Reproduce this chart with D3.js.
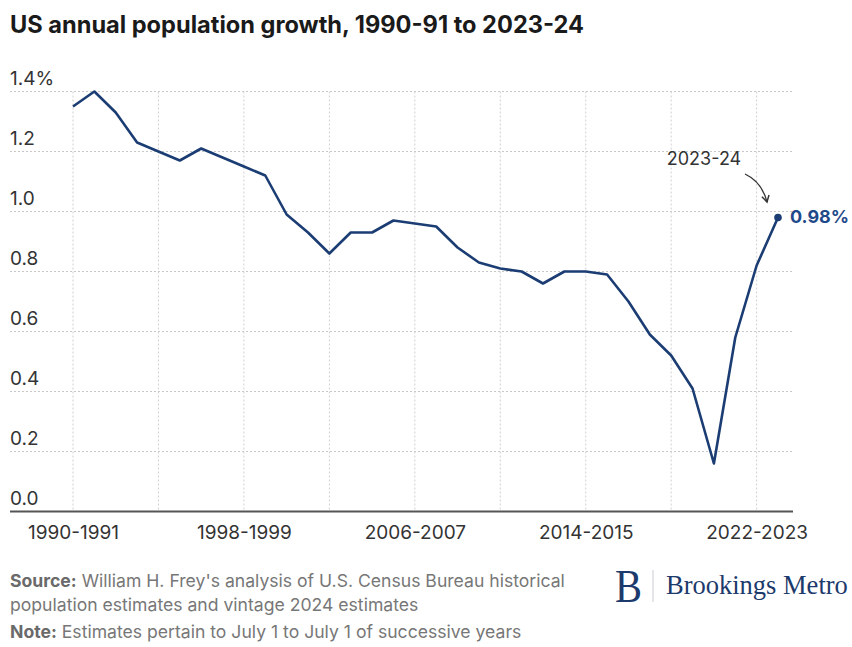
<!DOCTYPE html>
<html>
<head>
<meta charset="utf-8">
<script src="https://cdn.jsdelivr.net/npm/d3@7"></script>
<style>
  html, body { margin: 0; padding: 0; background: #fff; }
  svg { display: block; }
  .sans { font-family: Inter, "Noto Sans", sans-serif; }
  .serif { font-family: "Liberation Serif", "DejaVu Serif", serif; }
</style>
</head>
<body>
<svg id="chart" width="852" height="647"></svg>
<script>
// ---- data ----
const periods = ["1990-1991","1991-1992","1992-1993","1993-1994","1994-1995","1995-1996","1996-1997","1997-1998",
  "1998-1999","1999-2000","2000-2001","2001-2002","2002-2003","2003-2004","2004-2005","2005-2006","2006-2007",
  "2007-2008","2008-2009","2009-2010","2010-2011","2011-2012","2012-2013","2013-2014","2014-2015","2015-2016",
  "2016-2017","2017-2018","2018-2019","2019-2020","2020-2021","2021-2022","2022-2023","2023-2024"];
const growth = [1.35,1.40,1.33,1.23,1.20,1.17,1.21,1.18,1.15,1.12,0.99,0.93,0.86,0.93,0.93,0.97,0.96,
  0.95,0.88,0.83,0.81,0.80,0.76,0.80,0.80,0.79,0.70,0.59,0.52,0.41,0.16,0.58,0.82,0.98];
const yTicks = [0, 0.2, 0.4, 0.6, 0.8, 1.0, 1.2, 1.4];
const yTickLabels = ["0.0","0.2","0.4","0.6","0.8","1.0","1.2","1.4%"];
const xLabelTicks = ["1990-1991","1998-1999","2006-2007","2014-2015","2022-2023"];
const xGridTicks = ["1990-1991","1994-1995","1998-1999","2002-2003","2006-2007","2010-2011","2014-2015","2018-2019","2022-2023"];
const title = "US annual population growth, 1990-91 to 2023-24";
const annotationLabel = "2023-24";
const lastValueLabel = "0.98%";

// ---- layout ----
const svg = d3.select("#chart");
const left = 10, right = 793;
const x = d3.scalePoint().domain(periods).range([73, 778]);
const y = d3.scaleLinear().domain([0, 1.4]).range([511.5, 91.5]);
const lineColor = "#1b3d73";

svg.append("text").attr("class", "sans").attr("x", 10).attr("y", 33)
  .attr("font-size", 23.6).attr("font-weight", 700).attr("fill", "#1a1a1a")
  .text(title);

// horizontal grid
const hg = svg.append("g");
hg.selectAll("line.h").data(yTicks.filter(d => d > 0)).join("line").attr("class", "h")
  .attr("x1", left).attr("x2", right)
  .attr("y1", d => y(d)).attr("y2", d => y(d))
  .attr("stroke", "#c8c8c8").attr("stroke-width", 1).attr("stroke-dasharray", "2,2");
// vertical grid
hg.selectAll("line.v").data(xGridTicks).join("line").attr("class", "v")
  .attr("x1", d => x(d)).attr("x2", d => x(d))
  .attr("y1", y(1.4)).attr("y2", y(0))
  .attr("stroke", "#d0d0d0").attr("stroke-width", 1).attr("stroke-dasharray", "2,2");

// y labels
svg.append("g").selectAll("text").data(yTicks).join("text")
  .attr("class", "sans")
  .attr("x", left).attr("y", d => y(d) - 7)
  .attr("font-size", 19).attr("fill", "#333")
  .text((d, i) => yTickLabels[i]);

// baseline
svg.append("line").attr("x1", left).attr("x2", right)
  .attr("y1", y(0)).attr("y2", y(0))
  .attr("stroke", "#555").attr("stroke-width", 2);

// x axis labels
const xAxis = d3.axisBottom(x).tickValues(xLabelTicks).tickSize(0).tickPadding(0);
const gx = svg.append("g").attr("transform", `translate(0,${y(0)})`).call(xAxis);
gx.attr("font-family", null).attr("font-size", null);
gx.select(".domain").remove();
gx.selectAll("text").attr("class", "sans").attr("font-size", 19).attr("fill", "#333")
  .attr("dy", null).attr("y", 27);

// line
svg.append("path").datum(growth)
  .attr("fill", "none").attr("stroke", lineColor).attr("stroke-width", 2.6)
  .attr("stroke-linejoin", "round")
  .attr("d", d3.line().x((d, i) => x(periods[i])).y(d => y(d)));

// last point
const lastP = periods[periods.length - 1], lastV = growth[growth.length - 1];
svg.append("circle").attr("cx", x(lastP)).attr("cy", y(lastV)).attr("r", 3.8).attr("fill", lineColor);
svg.append("text").attr("class", "sans").attr("x", x(lastP) + 12).attr("y", y(lastV) + 5.5)
  .attr("font-size", 18).attr("font-weight", 700).attr("fill", "#1f4a8a")
  .text(lastValueLabel);

// annotation
svg.append("text").attr("class", "sans").attr("x", 704).attr("y", 165).attr("text-anchor", "middle")
  .attr("font-size", 18).attr("fill", "#333").text(annotationLabel);
const defs = svg.append("defs");
defs.append("marker").attr("id", "arr").attr("viewBox", "0 0 10 10")
  .attr("refX", 8).attr("refY", 5).attr("markerWidth", 7).attr("markerHeight", 7)
  .attr("orient", "auto")
  .append("path").attr("d", "M1,1 L8,5 L1,9").attr("fill", "none").attr("stroke", "#333").attr("stroke-width", 1.6);
svg.append("path").attr("d", "M745,174 Q762,182 767,202")
  .attr("fill", "none").attr("stroke", "#333").attr("stroke-width", 1.3)
  .attr("marker-end", "url(#arr)");

// footer
const foot = svg.append("g").attr("class", "sans").attr("font-size", 17.6).attr("fill", "#777");
const t1 = foot.append("text").attr("x", 10).attr("y", 587);
t1.append("tspan").attr("font-weight", 700).attr("fill", "#6a6a6a").text("Source:");
t1.append("tspan").text(" William H. Frey's analysis of U.S. Census Bureau historical");
foot.append("text").attr("x", 10).attr("y", 610.5).text("population estimates and vintage 2024 estimates");
const t3 = foot.append("text").attr("x", 10).attr("y", 638);
t3.append("tspan").attr("font-weight", 700).attr("fill", "#6a6a6a").text("Note:");
t3.append("tspan").text(" Estimates pertain to July 1 to July 1 of successive years");

// logo
const logo = svg.append("g").attr("fill", "#1c3a6b");
logo.append("text").attr("class", "serif").attr("x", 615).attr("y", 602)
  .attr("font-size", 47).attr("textLength", 27).attr("lengthAdjust", "spacingAndGlyphs").text("B");
logo.append("line").attr("x1", 653).attr("x2", 653).attr("y1", 570).attr("y2", 602)
  .attr("stroke", "#c9ccd4").attr("stroke-width", 1);
logo.append("text").attr("class", "serif").attr("x", 666).attr("y", 593.5)
  .attr("font-size", 26.5).text("Brookings Metro");
</script>
</body>
</html>
